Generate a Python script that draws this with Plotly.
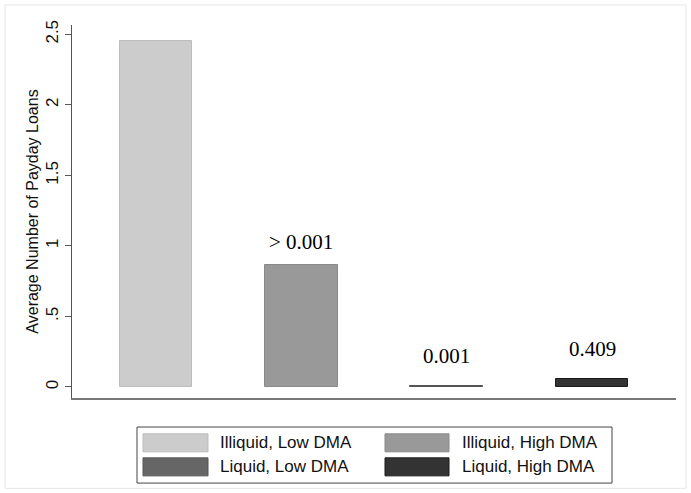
import plotly.graph_objects as go

# ---- data ----
categories = ["Illiquid, Low DMA", "Illiquid, High DMA", "Liquid, Low DMA", "Liquid, High DMA"]
avg_loans = [2.455, 0.868, 0.010, 0.055]
bar_labels = ["", "> 0.001", "0.001", "0.409"]
tick_vals = [0, 0.5, 1, 1.5, 2, 2.5]
tick_text = ["0", ".5", "1", "1.5", "2", "2.5"]

fills = ["#cccccc", "#999999", "#666666", "#333333"]
outlines = ["#bdbdbd", "#8a8a8a", "#555555", "#1a1a1a"]
label_shift = [9, 9, 16, 16]

W, H = 691, 493
L, R, T, B = 72, 676, 25, 397.7

def px(x):
    return (x - L) / (R - L)

def py(y):
    return (B - y) / (B - T)

xpos = list(range(len(categories)))

fig = go.Figure()
fig.add_trace(go.Bar(
    x=xpos, y=avg_loans, width=0.5,
    marker=dict(color=fills, line=dict(color=outlines, width=1)),
    showlegend=False, hoverinfo="y",
))

for xi, v, lab, sh in zip(xpos, avg_loans, bar_labels, label_shift):
    if lab:
        fig.add_annotation(x=xi, y=v, text=lab, showarrow=False, yanchor="bottom",
                           yshift=sh, font=dict(family="Liberation Serif", size=21, color="#000"))

# outer frame
fig.add_shape(type="rect", xref="paper", yref="paper",
              x0=px(5), x1=px(686), y0=py(488), y1=py(5),
              line=dict(color="#e6e6e6", width=1), fillcolor="rgba(0,0,0,0)", layer="below")

# custom legend
fig.add_shape(type="rect", xref="paper", yref="paper",
              x0=px(137), x1=px(612), y0=py(482.7), y1=py(426.7),
              line=dict(color="#444444", width=1), fillcolor="white")
cols = [(143, 208, 218), (385, 449, 460)]
rows = [(433.5, 451.5), (457.5, 475.5)]
for i, name in enumerate(categories):
    c = cols[i % 2]
    r = rows[i // 2]
    fig.add_shape(type="rect", xref="paper", yref="paper",
                  x0=px(c[0]), x1=px(c[1]), y0=py(r[1]), y1=py(r[0]),
                  line=dict(color=outlines[i], width=1), fillcolor=fills[i])
    fig.add_annotation(xref="paper", yref="paper", x=px(c[2]), y=py((r[0] + r[1]) / 2),
                       text=name, showarrow=False, xanchor="left", yanchor="middle",
                       font=dict(family="Liberation Sans", size=17, color="#111"))

x_span = 145.33
fig.update_layout(
    width=W, height=H,
    margin=dict(l=L, r=W - R, t=T, b=H - B, pad=0),
    paper_bgcolor="white", plot_bgcolor="white",
    bargap=0,
    xaxis=dict(range=[-84 / x_span, 3 + 84 / x_span], showticklabels=False, ticks="",
               showgrid=False, zeroline=False, showline=True, linecolor="#777777", linewidth=2),
    yaxis=dict(range=[-(B - 386.7) / 141.0, 2.5 + (34.3 - T) / 141.0],
               tickvals=tick_vals, ticktext=tick_text, tickangle=-90,
               ticks="outside", ticklen=6, tickcolor="#555555", tickwidth=1,
               showgrid=False, zeroline=False, showline=True, linecolor="#555555", linewidth=1,
               tickfont=dict(family="Liberation Sans", size=17, color="#111"),
               title=dict(text="Average Number of Payday Loans", standoff=0,
                          font=dict(family="Liberation Sans", size=16, color="#111"))),
)

fig.write_html("out.html", config={"displayModeBar": False},
               post_script="document.body.style.margin='0';")
